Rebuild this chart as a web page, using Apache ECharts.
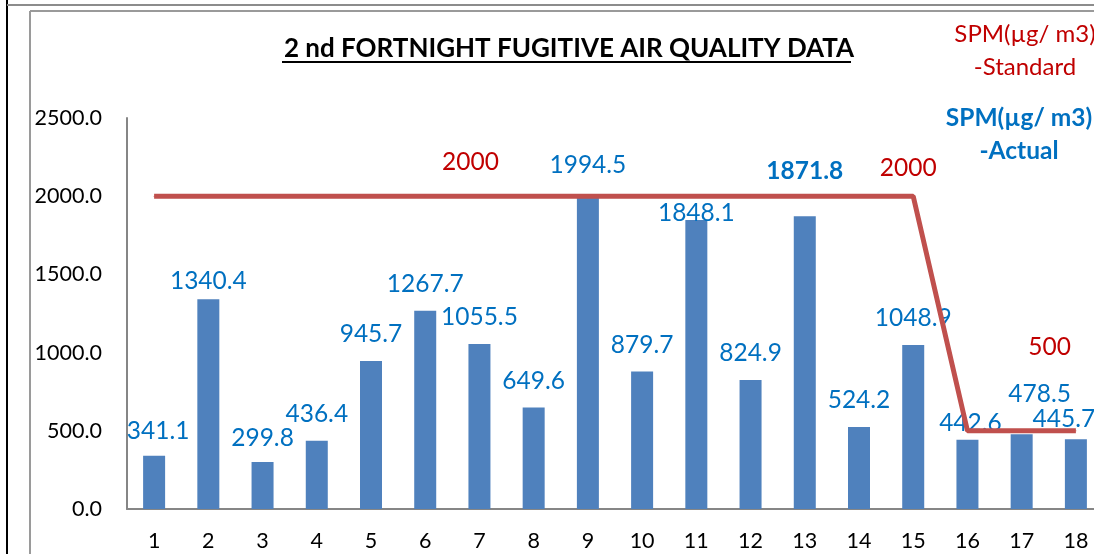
<!DOCTYPE html>
<html>
<head>
<meta charset="utf-8">
<script src="https://cdn.jsdelivr.net/npm/echarts@6/dist/echarts.min.js"></script>
<style>
  html, body { margin: 0; padding: 0; background: #fff; overflow: hidden; }
  /* a bit wider than the window: the plot runs past the right edge in the screenshot */
  #chart { width: 1110px; height: 554px; }
</style>
</head>
<body>
<div id="chart"></div>
<script>
// data
const days = ['1','2','3','4','5','6','7','8','9','10','11','12','13','14','15','16','17','18'];
const spmActual = [341.1, 1340.4, 299.8, 436.4, 945.7, 1267.7, 1055.5, 649.6, 1994.5, 879.7, 1848.1, 824.9, 1871.8, 524.2, 1048.9, 442.6, 478.5, 445.7];
const spmStandard = [2000, 2000, 2000, 2000, 2000, 2000, 2000, 2000, 2000, 2000, 2000, 2000, 2000, 2000, 2000, 500, 500, 500];
const yTicks = [0, 500, 1000, 1500, 2000, 2500];

const FONT = 'Lato';
const BLUE_TXT = '#0070C0';
const RED_TXT = '#C00000';

// label tweaks for the bars (excel had them dragged around a bit)
const barLabelTweak = {
    0: { offset: [4, 2] },
    1: { offset: [0, 8] },
    2: { offset: [0, 2] },
    8: { offset: [0, -5] },
    10: { offset: [0, 20] },
    12: { offset: [0, -19], fontWeight: 'bold' },
    15: { offset: [3, 10] },
    16: { offset: [18, -14] },
    17: { offset: [-12, 6] }
};
// which standard points carry a label
const lineLabelAt = {
    6: { offset: [-9, 0] },
    14: { offset: [-5, 6] },
    16: { offset: [28, -50] }
};

const chart = echarts.init(document.getElementById('chart'));

const barData = spmActual.map((v, i) => {
    const t = barLabelTweak[i];
    return t ? { value: v, label: t } : v;
});
const lineData = spmStandard.map((v, i) => {
    const t = lineLabelAt[i];
    return t ? { value: v, label: Object.assign({ show: true }, t) } : v;
});

chart.setOption({
    animation: false,
    textStyle: { fontFamily: FONT },
    title: {
        text: '2 nd FORTNIGHT FUGITIVE AIR QUALITY DATA',
        left: 564,
        top: 31,
        textAlign: 'center',
        textStyle: { fontFamily: FONT, fontSize: 26, fontWeight: 'bold', color: '#000' }
    },
    grid: { left: 127, right: 7, top: 118, bottom: 45, containLabel: false },
    xAxis: {
        type: 'category',
        data: days,
        axisLine: { lineStyle: { color: '#868686', width: 2 } },
        axisTick: { show: false },
        axisLabel: { color: '#000', fontSize: 21.5, margin: 21 }
    },
    yAxis: {
        type: 'value',
        min: 0,
        max: 2500,
        interval: 500,
        axisLine: { show: true, lineStyle: { color: '#868686', width: 2 } },
        axisTick: { show: false },
        splitLine: { show: false },
        axisLabel: {
            color: '#000',
            fontSize: 21.5,
            margin: 25,
            formatter: v => yTicks.includes(v) ? v.toFixed(1) : ''
        }
    },
    series: [
        {
            name: 'SPM(µg/ m3) -Actual',
            type: 'bar',
            data: barData,
            barWidth: 22,
            itemStyle: { color: '#4F81BD' },
            label: {
                show: true,
                position: 'top',
                distance: 14,
                color: BLUE_TXT,
                fontSize: 24.5,
                formatter: p => p.value.toFixed(1)
            }
        },
        {
            name: 'SPM(µg/ m3) -Standard',
            type: 'line',
            data: lineData,
            symbol: 'circle',
            symbolSize: 1,
            itemStyle: { color: '#C0504D' },
            lineStyle: { color: '#C0504D', width: 5 },
            label: {
                show: false,
                position: 'top',
                distance: 21,
                color: RED_TXT,
                fontSize: 24.5
            },
            z: 3
        }
    ],
    graphic: [
        // outer frame bits
        { type: 'line', shape: { x1: 7, y1: 0, x2: 7, y2: 554 }, style: { stroke: '#000', lineWidth: 2 } },
        { type: 'line', shape: { x1: 7, y1: 5, x2: 1110, y2: 5 }, style: { stroke: '#8c8c8c', lineWidth: 2 } },
        { type: 'line', shape: { x1: 30, y1: 11, x2: 30, y2: 554 }, style: { stroke: '#9a9a9a', lineWidth: 2 } },
        { type: 'line', shape: { x1: 30, y1: 11, x2: 1110, y2: 11 }, style: { stroke: '#9a9a9a', lineWidth: 2 } },
        // title underline
        { type: 'line', shape: { x1: 282, y1: 62, x2: 851, y2: 62 }, style: { stroke: '#000', lineWidth: 2 } },
        // legend text boxes
        { type: 'text', style: { x: 1025, y: 18, text: 'SPM(µg/ m3)\n-Standard', fill: RED_TXT, fontSize: 24, fontFamily: FONT, align: 'center', lineHeight: 33 } },
        { type: 'text', style: { x: 1019, y: 102, text: 'SPM(µg/ m3)\n-Actual', fill: BLUE_TXT, fontSize: 24.5, fontWeight: 'bold', fontFamily: FONT, align: 'center', lineHeight: 33 } }
    ]
});
</script>
</body>
</html>
